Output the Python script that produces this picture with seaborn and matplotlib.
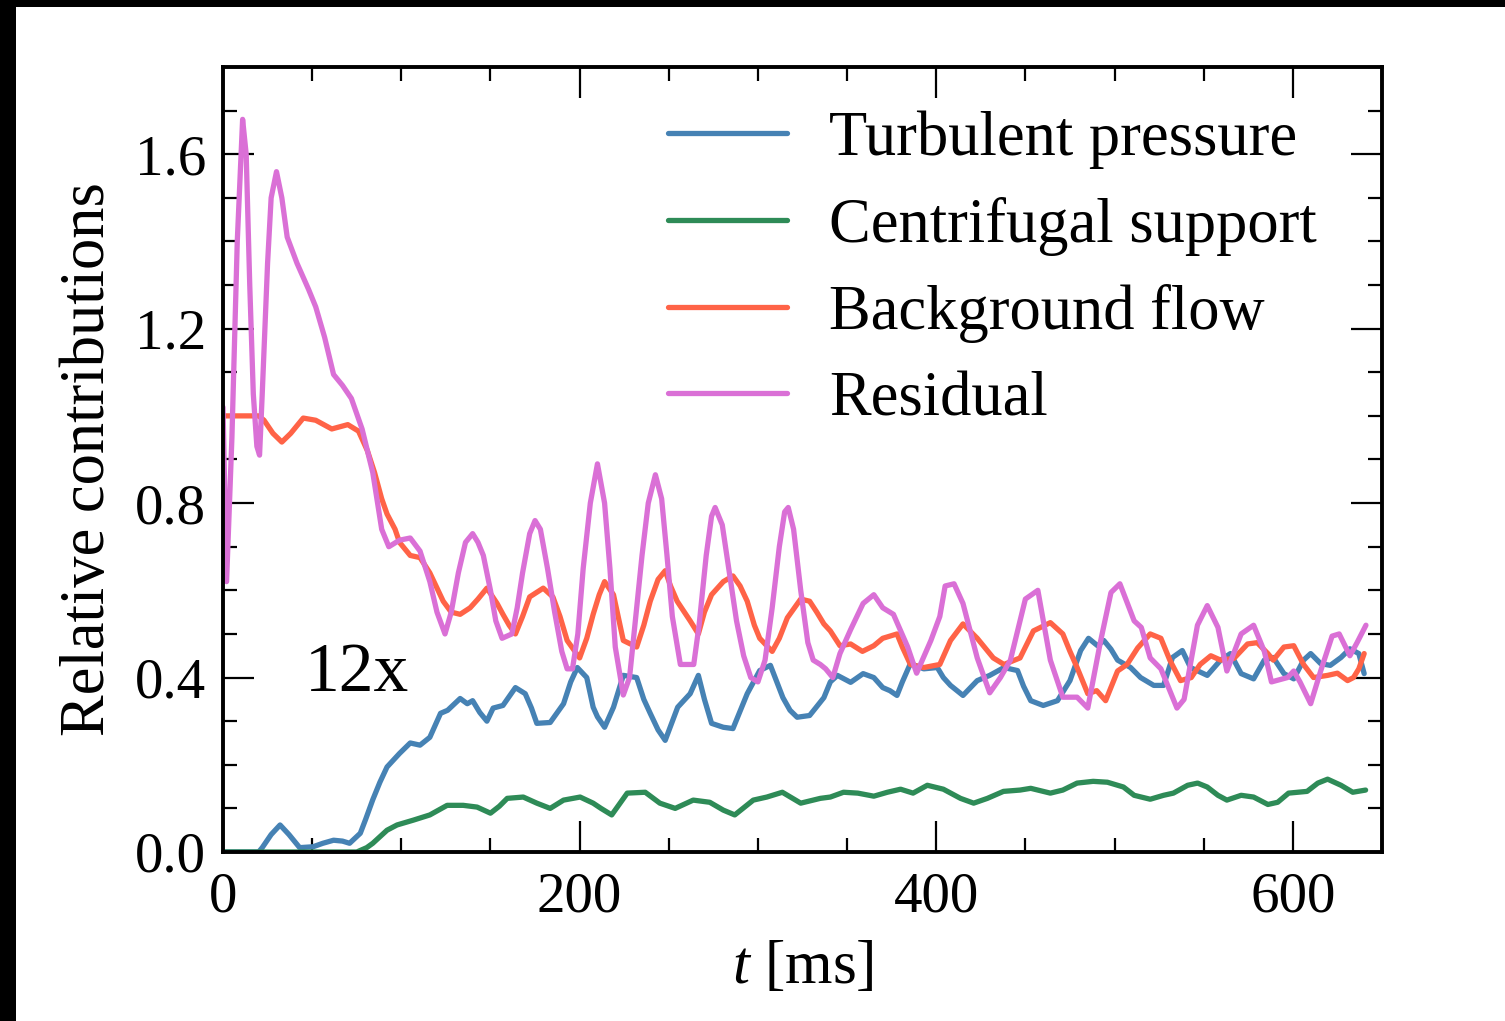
import numpy as np
import pandas as pd
import matplotlib
matplotlib.use("Agg")
import matplotlib.pyplot as plt
from matplotlib.patches import Rectangle
from matplotlib.ticker import MultipleLocator
import seaborn as sns

# ---- data (t [ms], relative contribution) ----
turbulent = [(0, 0), (20, 0), (22, 0.01), (27, 0.04), (32, 0.062), (37, 0.04), (43, 0.01), (50.5, 0.012),
             (56, 0.02), (62, 0.027), (67, 0.025), (71, 0.02), (77, 0.043), (80, 0.075), (84, 0.12),
             (88, 0.16), (92, 0.195), (99, 0.226), (105, 0.25), (110.5, 0.245), (116, 0.263), (122, 0.318),
             (126, 0.325), (133, 0.352), (137, 0.34), (140, 0.347), (144, 0.32), (148, 0.30), (151.5, 0.33),
             (157, 0.336), (164, 0.377), (169.5, 0.363), (173, 0.33), (176, 0.295), (183.5, 0.297),
             (191, 0.34), (195, 0.39), (198.7, 0.423), (204, 0.40), (207.6, 0.332), (210, 0.31),
             (214, 0.286), (219, 0.332), (224.5, 0.405), (232, 0.40), (236, 0.35), (239.6, 0.318),
             (244, 0.28), (248, 0.256), (255, 0.332), (262, 0.363), (266.6, 0.405), (270, 0.35),
             (274, 0.295), (280.6, 0.286), (286, 0.283), (294, 0.363), (301, 0.416), (307, 0.428),
             (314, 0.354), (318, 0.325), (322, 0.309), (329, 0.313), (337, 0.354), (340.6, 0.39),
             (344.6, 0.405), (352, 0.389), (359, 0.409), (365, 0.40), (370, 0.377), (374, 0.37),
             (378, 0.359), (381, 0.39), (385.5, 0.432), (393, 0.42), (400.6, 0.423), (404, 0.40),
             (408, 0.382), (415, 0.359), (423, 0.393), (430, 0.405), (438, 0.423), (445.6, 0.416),
             (449, 0.38), (453, 0.347), (460, 0.336), (468, 0.347), (475, 0.393), (481, 0.462),
             (485.4, 0.49), (490.5, 0.473), (494, 0.485), (498, 0.465), (501.7, 0.44), (509, 0.423),
             (514.6, 0.40), (522, 0.382), (527.5, 0.382), (532.5, 0.446), (538, 0.462), (542.6, 0.423),
             (552, 0.405), (559.5, 0.44), (565, 0.455), (571, 0.409), (578, 0.397), (584, 0.44),
             (589, 0.446), (595, 0.409), (600.5, 0.397), (606, 0.44), (610, 0.455), (615.6, 0.432),
             (621, 0.428), (627, 0.446), (632, 0.466), (637, 0.455), (640, 0.409)]

centrifugal = [(0, 0), (75, 0), (80.6, 0.01), (84, 0.02), (88, 0.035), (92, 0.05), (97.6, 0.062),
               (106.7, 0.073), (116, 0.085), (125.7, 0.107), (134.7, 0.107), (142.5, 0.103), (150, 0.089),
               (155, 0.105), (159.4, 0.123), (168.4, 0.126), (176, 0.112), (183.5, 0.10), (191, 0.119),
               (200.3, 0.126), (207.6, 0.112), (212, 0.10), (218, 0.085), (226.7, 0.135), (236.8, 0.137),
               (245, 0.112), (253.6, 0.10), (263.7, 0.119), (273, 0.114), (280.6, 0.096), (287, 0.085),
               (297.4, 0.119), (305, 0.126), (313.7, 0.137), (324, 0.112), (335, 0.123), (340.6, 0.126),
               (348, 0.137), (356, 0.135), (365, 0.128), (372.6, 0.137), (380, 0.144), (387, 0.135),
               (395, 0.153), (404, 0.144), (413.6, 0.123), (421, 0.112), (428.7, 0.123), (437.7, 0.139),
               (447, 0.142), (453, 0.146), (464, 0.135), (471, 0.142), (479, 0.158), (488, 0.162),
               (496, 0.16), (505, 0.149), (511, 0.13), (520, 0.121), (527.5, 0.13), (533, 0.135),
               (541, 0.153), (546.6, 0.158), (552, 0.149), (558, 0.13), (563, 0.119), (571, 0.13),
               (578, 0.126), (586, 0.109), (591.5, 0.114), (597.6, 0.135), (608, 0.139), (614, 0.158),
               (619.5, 0.167), (627, 0.153), (633.6, 0.137), (640.8, 0.142)]

background = [(0, 1.0), (10, 1.0), (20, 1.0), (23, 0.99), (28, 0.96), (33, 0.94), (38, 0.96), (45, 0.995),
              (52, 0.99), (61, 0.97), (70, 0.98), (76, 0.965), (81, 0.92), (85, 0.87), (89, 0.81),
              (92, 0.775), (96.5, 0.74), (99, 0.71), (105, 0.68), (110.5, 0.675), (116, 0.64),
              (123.5, 0.575), (128, 0.55), (133, 0.545), (138.6, 0.56), (143, 0.58), (148, 0.605),
              (153.7, 0.57), (157, 0.545), (160.5, 0.52), (164, 0.50), (168, 0.54), (172, 0.585),
              (179.6, 0.605), (185, 0.585), (189, 0.54), (193, 0.485), (200, 0.445), (204, 0.49),
              (207.6, 0.545), (211, 0.59), (214, 0.62), (219, 0.59), (224.5, 0.485), (232, 0.47),
              (236, 0.52), (239.6, 0.575), (244, 0.625), (248, 0.645), (251, 0.61), (254.7, 0.575),
              (262, 0.53), (266.6, 0.50), (270, 0.55), (274, 0.59), (280.6, 0.62), (286, 0.633),
              (290, 0.61), (294, 0.575), (298, 0.52), (301, 0.49), (308, 0.46), (312, 0.49),
              (316.5, 0.537), (324, 0.58), (329, 0.575), (333, 0.55), (337, 0.523), (340.6, 0.507),
              (346, 0.473), (352, 0.477), (358.6, 0.46), (365, 0.473), (370, 0.49), (378, 0.50),
              (381, 0.47), (385.5, 0.43), (393, 0.423), (402, 0.43), (408, 0.485), (415, 0.523),
              (423, 0.49), (432, 0.445), (438, 0.43), (447, 0.445), (454.5, 0.507), (464, 0.526),
              (471, 0.50), (475, 0.46), (479, 0.423), (485, 0.363), (490, 0.37), (495, 0.347),
              (501.7, 0.415), (507, 0.43), (513, 0.468), (520, 0.50), (526, 0.49), (531, 0.44),
              (537, 0.393), (543, 0.40), (548, 0.43), (554, 0.45), (559.5, 0.44), (567, 0.444),
              (574.6, 0.477), (580, 0.48), (586, 0.455), (589, 0.44), (595, 0.47), (600.5, 0.473),
              (606, 0.43), (611.6, 0.40), (619.5, 0.405), (625, 0.41), (630.7, 0.393), (634, 0.40),
              (637, 0.42), (640, 0.455)]

residual = [(0, 1.02), (2, 0.62), (5, 0.95), (8, 1.40), (11, 1.68), (13, 1.60), (15, 1.30), (17, 1.05),
            (19, 0.93), (20.5, 0.91), (22, 1.05), (25, 1.35), (27, 1.50), (30, 1.56), (33, 1.50),
            (36, 1.41), (41.5, 1.35), (48, 1.29), (52, 1.25), (57, 1.18), (62, 1.095), (67, 1.07),
            (72, 1.04), (78, 0.97), (84, 0.87), (89, 0.74), (93, 0.70), (99, 0.715), (105, 0.72),
            (110.5, 0.69), (116, 0.62), (120, 0.55), (124.5, 0.50), (128, 0.55), (132, 0.64),
            (136, 0.71), (140, 0.73), (143, 0.71), (146, 0.68), (150, 0.60), (153, 0.53),
            (156.5, 0.49), (162, 0.50), (165, 0.56), (168, 0.64), (172, 0.73), (175, 0.76),
            (178, 0.74), (182, 0.65), (186, 0.55), (190, 0.46), (193, 0.42), (196, 0.42), (199, 0.50),
            (202, 0.65), (206, 0.80), (210, 0.89), (214, 0.80), (217, 0.65), (220, 0.47),
            (224.5, 0.36), (228, 0.40), (231, 0.52), (235, 0.68), (238.5, 0.80), (242.5, 0.865),
            (246, 0.81), (249, 0.68), (252, 0.54), (256.5, 0.43), (264, 0.43), (267, 0.52),
            (271, 0.68), (274, 0.77), (276, 0.79), (280, 0.75), (284, 0.64), (288, 0.53), (292, 0.45),
            (296, 0.40), (300, 0.39), (304, 0.44), (308, 0.56), (312, 0.70), (315, 0.78), (317, 0.79),
            (320, 0.74), (324, 0.60), (328, 0.48), (331, 0.44), (335, 0.43), (338, 0.42), (342, 0.40),
            (346, 0.455), (352, 0.51), (359, 0.57), (365, 0.59), (370, 0.56), (376, 0.545),
            (384, 0.47), (389, 0.41), (397, 0.485), (402, 0.54), (405, 0.61), (410, 0.615),
            (415, 0.57), (423, 0.445), (430, 0.365), (436, 0.40), (441.6, 0.44), (450, 0.58),
            (457, 0.60), (464, 0.44), (471, 0.355), (479, 0.355), (485, 0.33), (492, 0.48),
            (498, 0.595), (503, 0.615), (511, 0.53), (515, 0.515), (520, 0.445), (526, 0.42),
            (535, 0.33), (539, 0.35), (546.5, 0.52), (552, 0.565), (558, 0.515), (563, 0.415),
            (571, 0.50), (578, 0.52), (584, 0.46), (588, 0.39), (597, 0.40), (600.5, 0.415),
            (604, 0.39), (610, 0.34), (615.6, 0.415), (622, 0.495), (626, 0.50), (632, 0.45),
            (636, 0.48), (641, 0.52)]

series_names = ["Turbulent pressure", "Centrifugal support", "Background flow", "Residual"]
series_data = [turbulent, centrifugal, background, residual]
colors = ["#4682b4", "#2e8b57", "#ff6347", "#da70d6"]

x_ticks = [0, 200, 400, 600]
y_ticks = [0.0, 0.4, 0.8, 1.2, 1.6]

rows = []
for name, pts in zip(series_names, series_data):
    for t, v in pts:
        rows.append({"t": t, "value": v, "series": name})
df = pd.DataFrame(rows)

sns.set_style("ticks")
plt.rcParams["font.family"] = ["Liberation Serif", "DejaVu Serif"]
plt.rcParams["mathtext.fontset"] = "custom"
plt.rcParams["mathtext.it"] = "Liberation Serif:italic"
plt.rcParams["mathtext.rm"] = "Liberation Serif"
for key in ["text.color", "axes.labelcolor", "xtick.color", "ytick.color", "axes.edgecolor"]:
    plt.rcParams[key] = "black"

fig = plt.figure(figsize=(15.05, 10.21), dpi=100)
fig.patch.set_facecolor("white")
# black frame strips at the top and left edges of the picture
fig.patches.append(Rectangle((0, 1 - 7 / 1021), 1, 7 / 1021, transform=fig.transFigure,
                             facecolor="black", edgecolor="none", zorder=10))
fig.patches.append(Rectangle((0, 0), 16 / 1505, 1, transform=fig.transFigure,
                             facecolor="black", edgecolor="none", zorder=10))

ax = fig.add_axes([223 / 1505, 1 - 852 / 1021, (1382 - 223) / 1505, (852 - 67) / 1021])

sns.lineplot(data=df, x="t", y="value", hue="series", hue_order=series_names,
             palette=colors, estimator=None, sort=True, linewidth=3.8, ax=ax)

ax.set_xlim(0, 650)
ax.set_ylim(0, 1.8)
ax.set_xticks(x_ticks)
ax.set_yticks(y_ticks)
ax.set_yticklabels([f"{v:.1f}" for v in y_ticks])
ax.xaxis.set_minor_locator(MultipleLocator(50))
ax.yaxis.set_minor_locator(MultipleLocator(0.1))
ax.tick_params(which="both", direction="in", top=True, right=True, width=1.6, labelsize=41,
               colors="black")
ax.tick_params(axis="x", which="major", pad=14)
ax.tick_params(axis="y", which="major", pad=12)
ax.tick_params(which="major", length=22)
ax.tick_params(which="minor", length=10)
for s in ax.spines.values():
    s.set_linewidth(2.8)
    s.set_color("black")

ax.set_xlabel(r"$t$ [ms]", fontsize=44, labelpad=12)
ax.set_ylabel("Relative contributions", fontsize=45, labelpad=12)

ax.text(46, 0.37, "12x", fontsize=50, va="baseline", ha="left")

leg = ax.legend(loc="upper left", bbox_to_anchor=(0.384, 0.945), frameon=False, fontsize=45,
                handlelength=1.9, handletextpad=0.68, labelspacing=0.45, borderaxespad=0, borderpad=0)
for h in leg.get_lines():
    h.set_linewidth(3.8)

fig.savefig("out.png", dpi=100, facecolor="white")
